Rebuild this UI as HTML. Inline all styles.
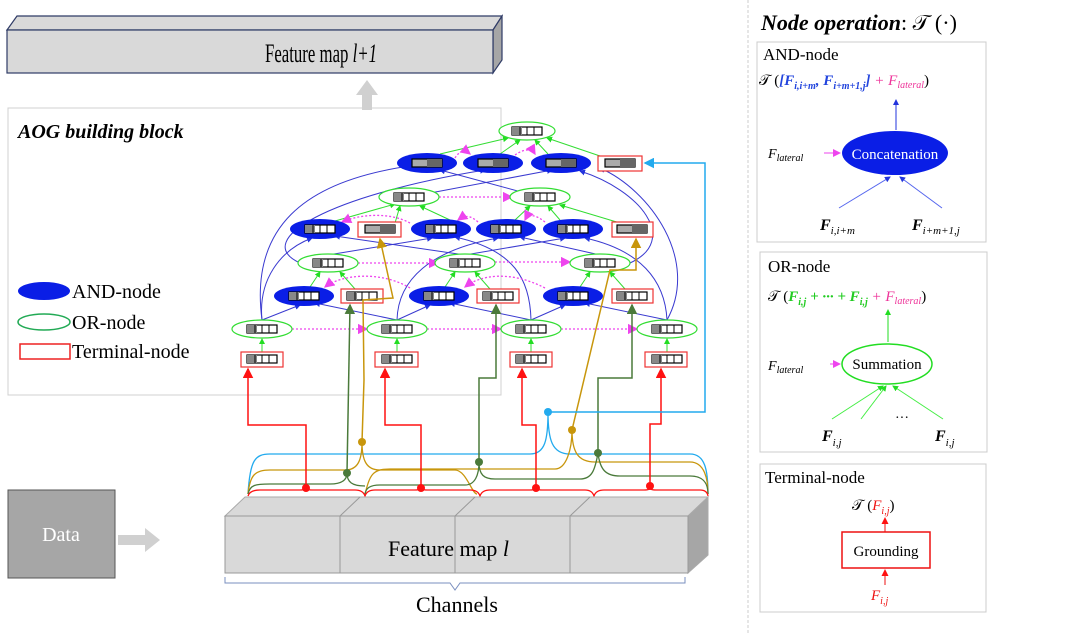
<!DOCTYPE html>
<html><head><meta charset="utf-8"><style>
html,body{margin:0;padding:0;background:#fff;}
svg{display:block;font-family:"Liberation Serif",serif;}
</style></head><body>
<svg width="1080" height="634" viewBox="0 0 1080 634" xmlns="http://www.w3.org/2000/svg">
<defs>
<marker id="ag" markerWidth="6" markerHeight="6" refX="5" refY="3" orient="auto"><path d="M0,0L6,3L0,6z" fill="#22dd22"/></marker>
<marker id="ab" markerWidth="6" markerHeight="6" refX="5" refY="3" orient="auto"><path d="M0,0L6,3L0,6z" fill="#2233dd"/></marker>
<marker id="am" markerWidth="8" markerHeight="8" refX="7" refY="4" orient="auto"><path d="M0,0L8,4L0,8z" fill="#ee44ee"/></marker>
<marker id="ar" markerWidth="7" markerHeight="7" refX="6" refY="3.5" orient="auto"><path d="M0,0L7,3.5L0,7z" fill="#ff1111"/></marker>
<marker id="agr" markerWidth="7" markerHeight="7" refX="6" refY="3.5" orient="auto"><path d="M0,0L7,3.5L0,7z" fill="#4a7a3a"/></marker>
<marker id="ago" markerWidth="7" markerHeight="7" refX="6" refY="3.5" orient="auto"><path d="M0,0L7,3.5L0,7z" fill="#c8960c"/></marker>
<marker id="ac" markerWidth="7" markerHeight="7" refX="6" refY="3.5" orient="auto"><path d="M0,0L7,3.5L0,7z" fill="#22aaee"/></marker>
<g id="cell"><rect x="-15" y="-4" width="30" height="8" fill="#fff" stroke="#000" stroke-width="1.2"/><rect x="-15" y="-4" width="10" height="8" fill="#888"/><line x1="-7" y1="-4" x2="-7" y2="4" stroke="#000"/><line x1="0" y1="-4" x2="0" y2="4" stroke="#000"/><line x1="7" y1="-4" x2="7" y2="4" stroke="#000"/></g>
<g id="cell2"><rect x="-15" y="-4" width="30" height="8" fill="#aaa" stroke="#000" stroke-width="1.2"/><rect x="0" y="-4" width="15" height="8" fill="#666"/></g>
</defs>

<polygon points="7,30 17,16 502,16 493,30" fill="#d9d9d9" stroke="#2f3b66" stroke-width="1.2"/>
<polygon points="493,30 502,16 502,60 493,73" fill="#a6a6a6" stroke="#2f3b66" stroke-width="1.2"/>
<rect x="7" y="30" width="486" height="43" fill="#d9d9d9" stroke="#2f3b66" stroke-width="1.2"/>
<text x="265" y="62" font-size="26" textLength="112" lengthAdjust="spacingAndGlyphs">Feature map <tspan font-style="italic">l+1</tspan></text>
<polygon points="356,95 367,80 378,95 372,95 372,110 362,110 362,95" fill="#d0d0d0"/>

<rect x="8" y="108" width="493" height="287" fill="none" stroke="#d0d0d0"/>
<text x="18" y="138" font-size="20" font-weight="bold" font-style="italic">AOG building block</text>
<ellipse cx="44" cy="291" rx="26" ry="9" fill="#0a1ee6"/>
<text x="72" y="298" font-size="20">AND-node</text>
<ellipse cx="44" cy="322" rx="26" ry="8" fill="#fff" stroke="#22aa55" stroke-width="1.5"/>
<text x="72" y="329" font-size="20">OR-node</text>
<rect x="20" y="344" width="50" height="15" fill="#fff" stroke="#ee2222" stroke-width="1.5"/>
<text x="72" y="358" font-size="20">Terminal-node</text>

<g stroke="#3a3ad0" stroke-width="1" fill="none" marker-end="url(#ab)">
<path d="M262,320 L300,305"/><path d="M397,320 L315,303"/>
<path d="M397,320 L430,305"/><path d="M531,320 L450,303"/>
<path d="M531,320 L565,305"/><path d="M667,320 L585,303"/>
<path d="M262,320 C258,280 280,250 312,238"/><path d="M465,255 L335,236"/>
<path d="M328,255 L432,238"/><path d="M531,320 C530,280 515,250 455,237"/>
<path d="M397,320 C398,280 430,250 498,238"/><path d="M600,255 L520,237"/>
<path d="M465,255 L565,238"/><path d="M667,320 C665,280 640,250 585,238"/>
<path d="M262,320 C250,230 300,180 417,165"/><path d="M540,197 L440,170"/>
<path d="M300,263 C250,240 330,195 485,170"/><path d="M409,197 L552,170"/>
<path d="M630,263 C680,240 640,190 580,171"/><path d="M667,320 C700,260 650,190 600,168"/>
</g>
<g stroke="#33dd33" stroke-width="1" fill="none" marker-end="url(#ag)">
<path d="M262,352 L262,339"/><path d="M397,352 L397,339"/><path d="M531,352 L531,339"/><path d="M667,352 L667,339"/>
<path d="M310,287 L320,272"/><path d="M355,289 L340,272"/>
<path d="M445,287 L455,272"/><path d="M490,289 L475,272"/>
<path d="M580,287 L590,272"/><path d="M625,289 L610,272"/>
<path d="M335,221 L395,204"/><path d="M395,223 L400,206"/><path d="M450,220 L420,206"/>
<path d="M515,220 L530,206"/><path d="M560,220 L548,206"/><path d="M620,223 L560,205"/>
<path d="M440,154 L508,138"/><path d="M500,154 L520,140"/><path d="M548,154 L535,140"/><path d="M600,156 L547,138"/>
</g>
<g stroke="#ee44ee" stroke-width="1.3" fill="none" stroke-dasharray="2,2" marker-end="url(#am)">
<path d="M292,329 L367,329"/><path d="M427,329 L501,329"/><path d="M561,329 L637,329"/>
<path d="M358,263 L438,263"/><path d="M495,262 L570,262"/>
<path d="M439,197 L512,197"/>
<path d="M410,288 C380,270 340,275 325,287"/><path d="M545,288 C510,270 480,275 465,287"/>
<path d="M410,223 C390,212 360,214 342,222"/><path d="M478,222 C470,215 465,215 458,220"/><path d="M545,222 C535,214 528,214 525,220"/>
<path d="M455,158 C460,150 465,150 470,154"/><path d="M515,155 C525,148 532,149 535,154"/>
</g>

<g fill="#fff" stroke="#33dd33" stroke-width="1.2">
<ellipse cx="527" cy="131" rx="28" ry="9"/>
<ellipse cx="409" cy="197" rx="30" ry="9"/><ellipse cx="540" cy="197" rx="30" ry="9"/>
<ellipse cx="328" cy="263" rx="30" ry="9"/><ellipse cx="465" cy="263" rx="30" ry="9"/><ellipse cx="600" cy="263" rx="30" ry="9"/>
<ellipse cx="262" cy="329" rx="30" ry="9"/><ellipse cx="397" cy="329" rx="30" ry="9"/><ellipse cx="531" cy="329" rx="30" ry="9"/><ellipse cx="667" cy="329" rx="30" ry="9"/>
</g>
<g fill="#0a1ee6">
<ellipse cx="427" cy="163" rx="30" ry="10"/><ellipse cx="493" cy="163" rx="30" ry="10"/><ellipse cx="561" cy="163" rx="30" ry="10"/>
<ellipse cx="320" cy="229" rx="30" ry="10"/><ellipse cx="441" cy="229" rx="30" ry="10"/><ellipse cx="506" cy="229" rx="30" ry="10"/><ellipse cx="573" cy="229" rx="30" ry="10"/>
<ellipse cx="304" cy="296" rx="30" ry="10"/><ellipse cx="439" cy="296" rx="30" ry="10"/><ellipse cx="573" cy="296" rx="30" ry="10"/>
</g>
<g fill="#fff" stroke="#ee3333" stroke-width="1.2">
<rect x="598" y="156" width="44" height="15"/>
<rect x="358" y="222" width="43" height="15"/><rect x="612" y="222" width="41" height="15"/>
<rect x="341" y="289" width="42" height="14"/><rect x="477" y="289" width="42" height="14"/><rect x="612" y="289" width="41" height="14"/>
<rect x="241" y="352" width="42" height="15"/><rect x="375" y="352" width="43" height="15"/><rect x="510" y="352" width="42" height="15"/><rect x="645" y="352" width="42" height="15"/>
</g>
<g>
<use href="#cell" x="527" y="131"/>
<use href="#cell2" x="427" y="163"/><use href="#cell2" x="493" y="163"/><use href="#cell2" x="561" y="163"/><use href="#cell2" x="620" y="163"/>
<use href="#cell" x="409" y="197"/><use href="#cell" x="540" y="197"/>
<use href="#cell" x="320" y="229"/><use href="#cell2" x="380" y="229"/><use href="#cell" x="441" y="229"/><use href="#cell" x="506" y="229"/><use href="#cell" x="573" y="229"/><use href="#cell2" x="632" y="229"/>
<use href="#cell" x="328" y="263"/><use href="#cell" x="465" y="263"/><use href="#cell" x="600" y="263"/>
<use href="#cell" x="304" y="296"/><use href="#cell" x="362" y="296"/><use href="#cell" x="439" y="296"/><use href="#cell" x="498" y="296"/><use href="#cell" x="573" y="296"/><use href="#cell" x="632" y="296"/>
<use href="#cell" x="262" y="329"/><use href="#cell" x="397" y="329"/><use href="#cell" x="531" y="329"/><use href="#cell" x="667" y="329"/>
<use href="#cell" x="262" y="359"/><use href="#cell" x="397" y="359"/><use href="#cell" x="531" y="359"/><use href="#cell" x="667" y="359"/>
</g>

<g fill="none" stroke-width="1.3">
<path d="M248,494 C250,460 255,454 270,454 L530,454 C545,454 548,440 548,412 C548,440 552,454 570,454 L690,454 C705,454 708,470 708,494" stroke="#22aaee"/>
<path d="M248,494 C250,475 255,470 270,470 L345,470 C358,470 362,460 362,442 C362,460 366,470 380,470 L455,470 C466,470 472,494 477,494" stroke="#c8960c"/>
<path d="M365,494 C370,475 372,469 390,469 L555,469 C566,469 572,450 572,430 C572,452 578,462 595,462 L690,462 C705,462 708,480 708,494" stroke="#c8960c"/>
<path d="M248,494 C250,485 255,484 270,484 L330,484 C342,484 347,480 347,473 C347,482 352,486 365,486" stroke="#4a7a3a"/>
<path d="M365,494 C366,488 370,485 380,485 L465,485 C475,485 479,475 479,462 C479,475 484,479 495,479 L580,479 C592,479 595,470 598,453 C600,470 606,476 620,476 L690,476 C705,476 708,485 708,494" stroke="#4a7a3a"/>
<path d="M248,496 Q250,490 260,490 L300,490 Q306,490 306,488 Q306,490 312,490 L355,490 Q363,490 365,496 Q367,490 375,490 L415,490 Q421,490 421,488 Q421,490 427,490 L470,490 Q478,490 480,496 Q482,490 490,490 L530,490 Q536,490 536,488 Q536,490 542,490 L585,490 Q592,490 594,496 Q596,490 604,490 L644,490 Q650,490 650,488 Q650,490 656,490 L700,490 Q707,490 708,496" stroke="#ff1111"/>
</g>
<g fill="none" stroke-width="1.5">
<path d="M306,488 L306,425 L248,425 L248,369" stroke="#ff1111" marker-end="url(#ar)"/>
<path d="M421,488 L421,425 L385,425 L385,369" stroke="#ff1111" marker-end="url(#ar)"/>
<path d="M536,488 L536,425 L522,425 L522,369" stroke="#ff1111" marker-end="url(#ar)"/>
<path d="M650,488 L650,424 L661,424 L661,369" stroke="#ff1111" marker-end="url(#ar)"/>
<path d="M347,473 L350,305" stroke="#4a7a3a" marker-end="url(#agr)"/>
<path d="M479,462 L479,378 L496,378 L496,305" stroke="#4a7a3a" marker-end="url(#agr)"/>
<path d="M598,453 L598,378 L632,378 L632,305" stroke="#4a7a3a" marker-end="url(#agr)"/>
<path d="M362,442 L364,380 L363,300 L393,298 L380,239" stroke="#c8960c" marker-end="url(#ago)"/>
<path d="M572,430 L610,270 L636,270 L636,239" stroke="#c8960c" marker-end="url(#ago)"/>
<path d="M548,412 L705,412 L705,163 L645,163" stroke="#22aaee" marker-end="url(#ac)"/>
</g>
<g><circle cx="306" cy="488" r="4" fill="#ff1111"/><circle cx="421" cy="488" r="4" fill="#ff1111"/><circle cx="536" cy="488" r="4" fill="#ff1111"/><circle cx="650" cy="486" r="4" fill="#ff1111"/>
<circle cx="347" cy="473" r="4" fill="#4a7a3a"/><circle cx="479" cy="462" r="4" fill="#4a7a3a"/><circle cx="598" cy="453" r="4" fill="#4a7a3a"/>
<circle cx="362" cy="442" r="4" fill="#c8960c"/><circle cx="572" cy="430" r="4" fill="#c8960c"/><circle cx="548" cy="412" r="4" fill="#22aaee"/></g>

<polygon points="225,516 245,497 708,497 688,516" fill="#d9d9d9" stroke="#aaa"/>
<polygon points="688,516 708,497 708,555 688,573" fill="#a6a6a6" stroke="#aaa"/>
<rect x="225" y="516" width="463" height="57" fill="#d9d9d9" stroke="#999"/>
<g stroke="#999"><line x1="340" y1="516" x2="340" y2="573"/><line x1="455" y1="516" x2="455" y2="573"/><line x1="570" y1="516" x2="570" y2="573"/>
<line x1="340" y1="516" x2="360" y2="497"/><line x1="455" y1="516" x2="475" y2="497"/><line x1="570" y1="516" x2="590" y2="497"/></g>
<text x="388" y="556" font-size="22">Feature map <tspan font-style="italic">l</tspan></text>
<path d="M225,577 L225,583 L450,583 L455,590 L460,583 L685,583 L685,577" fill="none" stroke="#7a8fbf"/>
<text x="416" y="612" font-size="22">Channels</text>

<rect x="8" y="490" width="107" height="88" fill="#a6a6a6" stroke="#555"/>
<text x="61" y="541" font-size="20" fill="#fff" text-anchor="middle">Data</text>
<polygon points="118,535 145,535 145,528 160,540 145,552 145,545 118,545" fill="#d0d0d0"/>

<line x1="748" y1="0" x2="748" y2="634" stroke="#ccc" stroke-dasharray="3,2"/>
<text x="761" y="30" font-size="22" font-weight="bold" font-style="italic">Node operation<tspan font-weight="normal" font-style="normal">: 𝒯 (·)</tspan></text>
<rect x="757" y="42" width="229" height="200" fill="none" stroke="#ccc"/>
<text x="763" y="60" font-size="17">AND-node</text>
<text x="759" y="85" font-size="15">𝒯 (<tspan fill="#2244dd" font-weight="bold" font-style="italic">[F<tspan font-size="10" dy="4">i,i+m</tspan><tspan dy="-4">, F</tspan><tspan font-size="10" dy="4">i+m+1,j</tspan><tspan dy="-4">]</tspan></tspan> <tspan fill="#ee3399" font-style="italic">+ F<tspan font-size="10" dy="3">lateral</tspan></tspan><tspan dy="-3">)</tspan></text>
<line x1="896" y1="130" x2="896" y2="100" stroke="#2233dd" marker-end="url(#ab)"/>
<ellipse cx="895" cy="153" rx="53" ry="22" fill="#0a1ee6"/>
<text x="895" y="159" font-size="15" fill="#fff" text-anchor="middle">Concatenation</text>
<text x="768" y="158" font-size="14" font-style="italic">F<tspan font-size="10" dy="3">lateral</tspan></text>
<line x1="824" y1="153" x2="840" y2="153" stroke="#ee44ee" marker-end="url(#am)"/>
<line x1="839" y1="208" x2="890" y2="177" stroke="#5566ee" marker-end="url(#ab)"/>
<line x1="942" y1="208" x2="900" y2="177" stroke="#5566ee" marker-end="url(#ab)"/>
<text x="820" y="230" font-size="16" font-weight="bold" font-style="italic">F<tspan font-size="11" font-weight="normal" dy="4">i,i+m</tspan></text>
<text x="912" y="230" font-size="16" font-weight="bold" font-style="italic">F<tspan font-size="11" font-weight="normal" dy="4">i+m+1,j</tspan></text>

<rect x="760" y="252" width="227" height="200" fill="none" stroke="#ccc"/>
<text x="768" y="272" font-size="17">OR-node</text>
<text x="768" y="301" font-size="15">𝒯 (<tspan fill="#22cc22" font-weight="bold" font-style="italic">F<tspan font-size="10" dy="4">i,j</tspan><tspan dy="-4"> + ··· + F</tspan><tspan font-size="10" dy="4">i,j</tspan></tspan><tspan dy="-4" fill="#ee3399" font-style="italic"> + F<tspan font-size="10" dy="3">lateral</tspan></tspan><tspan dy="-3">)</tspan></text>
<line x1="888" y1="342" x2="888" y2="310" stroke="#22dd22" marker-end="url(#ag)"/>
<ellipse cx="887" cy="364" rx="45" ry="20" fill="#fff" stroke="#22dd22" stroke-width="1.5"/>
<text x="887" y="369" font-size="15" text-anchor="middle">Summation</text>
<text x="768" y="370" font-size="14" font-style="italic">F<tspan font-size="10" dy="3">lateral</tspan></text>
<line x1="830" y1="364" x2="840" y2="364" stroke="#ee44ee" marker-end="url(#am)"/>
<g stroke="#44ee44" marker-end="url(#ag)"><line x1="832" y1="419" x2="883" y2="386"/><line x1="861" y1="419" x2="886" y2="386"/><line x1="943" y1="419" x2="893" y2="386"/></g>
<text x="895" y="422" font-size="14">···</text>
<text x="822" y="441" font-size="16" font-weight="bold" font-style="italic">F<tspan font-size="11" font-weight="normal" dy="5">i,j</tspan></text>
<text x="935" y="441" font-size="16" font-weight="bold" font-style="italic">F<tspan font-size="11" font-weight="normal" dy="5">i,j</tspan></text>

<rect x="760" y="464" width="226" height="148" fill="none" stroke="#ccc"/>
<text x="765" y="483" font-size="17">Terminal-node</text>
<text x="852" y="510" font-size="15">𝒯 (<tspan fill="#ee1111" font-style="italic">F<tspan font-size="10" dy="4">i,j</tspan></tspan><tspan dy="-4">)</tspan></text>
<line x1="885" y1="532" x2="885" y2="518" stroke="#ee1111" marker-end="url(#ar)"/>
<rect x="842" y="532" width="88" height="36" fill="#fff" stroke="#ee1111" stroke-width="1.5"/>
<text x="886" y="556" font-size="15" text-anchor="middle">Grounding</text>
<line x1="885" y1="585" x2="885" y2="570" stroke="#ee1111" marker-end="url(#ar)"/>
<text x="871" y="600" font-size="15" fill="#ee1111" font-style="italic">F<tspan font-size="10" dy="4">i,j</tspan></text>
</svg>
</body></html>
